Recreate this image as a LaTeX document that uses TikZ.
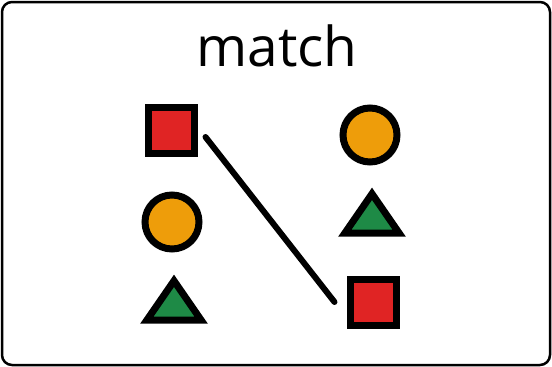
\documentclass[tikz,border=0pt]{standalone}
\usepackage{fontspec}
\setmainfont{Open Sans}
\definecolor{redc}{HTML}{E02424}
\definecolor{orangec}{HTML}{EE9D0A}
\definecolor{greenc}{HTML}{1E8A46}
\begin{document}
\begin{tikzpicture}[x=1pt,y=-1pt,
  frame/.style={draw=black,line width=2.5pt,rounded corners=10pt},
  sq/.style={rectangle,draw=black,fill=redc,line width=7pt,minimum size=46pt,inner sep=0pt},
  circ/.style={circle,draw=black,fill=orangec,line width=7pt,minimum size=54pt,inner sep=0pt},
  tribox/.style={rectangle,draw=none,minimum width=54pt,minimum height=39pt,inner sep=0pt},
  tri/.style={draw=black,fill=greenc,line width=7pt,line join=miter},
  link/.style={draw=black,line width=6pt,line cap=round},
  title/.style={font=\fontsize{55}{60}\selectfont,anchor=base,inner sep=0pt}
]
\useasboundingbox (0,0) rectangle (552,367);
\draw[frame] (2,2) rectangle (550,365);
\node[title] (t) at (277,66) {match};
\node[sq] (sqA) at (171,130) {};
\node[circ] (cA) at (172,222) {};
\node[tribox] (tA) at (174,300.5) {};
\node[circ] (cB) at (370,135) {};
\node[tribox] (tB) at (372,213.5) {};
\node[sq] (sqB) at (373,302) {};
\draw[tri] (tA.north) -- (tA.south east) -- (tA.south west) -- cycle;
\draw[tri] (tB.north) -- (tB.south east) -- (tB.south west) -- cycle;
\draw[link] ([shift={(8,7)}]sqA.east) -- ([shift={(-12,0)}]sqB.west);
\end{tikzpicture}
\end{document}
